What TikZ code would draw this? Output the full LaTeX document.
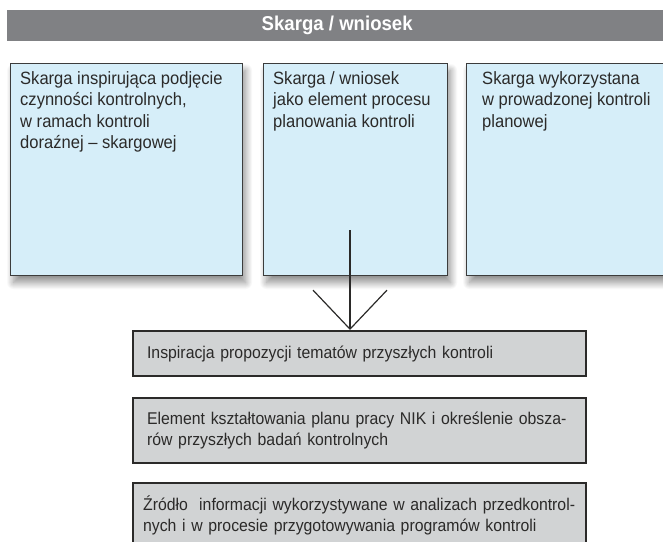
\documentclass[tikz,border=0pt]{standalone}
\usepackage{fontspec}
\setmainfont{Liberation Sans}[FakeStretch=0.93]
\usetikzlibrary{positioning,arrows.meta,calc,shadows.blur}
\definecolor{bar}{HTML}{808184}
\definecolor{skytint}{HTML}{D6EEF9}
\definecolor{greytint}{HTML}{D1D3D4}
\definecolor{ink}{HTML}{2B2A29}
\definecolor{edge}{HTML}{3C3C3C}
\tikzset{
  hdr/.style={fill=bar, text=white, inner sep=0pt, minimum width=660pt, minimum height=31pt,
    font=\fontsize{20pt}{24pt}\selectfont\bfseries},
  topbox/.style={draw=edge, line width=1.2pt, fill=skytint, inner sep=0pt, minimum height=212pt,
    anchor=north west, blur shadow={shadow xshift=3pt, shadow yshift=-7pt,
    shadow blur radius=7pt, shadow blur steps=20, shadow opacity=45}},
  toptxt/.style={anchor=north west, inner sep=0pt, align=left, text=ink,
    font=\fontsize{17.8pt}{21.5pt}\selectfont},
  botbox/.style={draw=ink, line width=2.2pt, fill=greytint, anchor=north west,
    text width=425pt, inner xsep=14pt, inner ysep=0pt, align=left, text=ink,
    font=\fontsize{17pt}{21.5pt}\selectfont},
  arr/.style={-{Straight Barb[length=39pt,width=74pt]}, line width=1.2pt, color=ink},
}
\begin{document}
\begin{tikzpicture}[x=1pt,y=-1pt]
  \useasboundingbox (0,0) rectangle (663,541);
  \node[hdr, anchor=north west] (head) at (7,10) {Skarga / wniosek};
  \node[topbox, minimum width=232pt] (doraz) at (10,63) {};
  \node[topbox, minimum width=184pt] (plan) at (263,63) {};
  \node[topbox, minimum width=232pt] (wyk) at (466,63) {};
  \node[toptxt] (dorazt) at ([xshift=10pt,yshift=-8pt]doraz.north west)
    {Skarga inspirująca podjęcie\\czynności kontrolnych,\\w ramach kontroli\\doraźnej – skargowej};
  \node[toptxt] (plant) at ([xshift=10pt,yshift=-8pt]plan.north west)
    {Skarga / wniosek\\jako element procesu\\planowania kontroli};
  \node[toptxt] (wykt) at ([xshift=16pt,yshift=-8pt]wyk.north west)
    {Skarga wykorzystana\\w prowadzonej kontroli\\planowej};
  \node[botbox, minimum height=45pt] (insp) at (132,330)
    {Inspiracja propozycji tematów przyszłych kontroli};
  \node[botbox, minimum height=65pt] (elem) at (132,397)
    {Element kształtowania planu pracy NIK i określenie obsza-\\rów przyszłych badań kontrolnych};
  \node[botbox, minimum height=65pt, text width=433pt, inner xsep=10pt] (zrodlo) at (132,482)
    {Źródło~ informacji wykorzystywane w analizach przedkontrol-\\nych i w procesie przygotowywania programów kontroli};
  % skarga kierowana do planowania
  \coordinate (src) at (350,230);
  \draw[arr] (src) -- (src |- insp.north);
\end{tikzpicture}
\end{document}
